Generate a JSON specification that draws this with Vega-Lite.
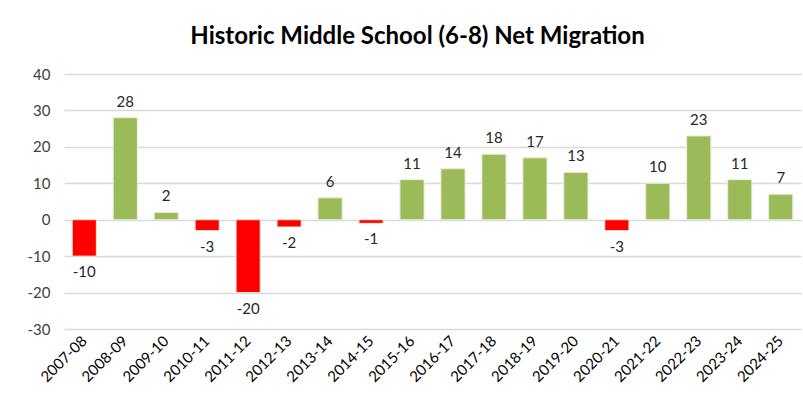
{
  "$schema": "https://vega.github.io/schema/vega-lite/v6.json",
  "width": 737,
  "height": 255,
  "autosize": {"type": "none"},
  "padding": {"left": 64, "top": 74, "right": 2, "bottom": 75},
  "background": "white",
  "title": {
    "text": "Historic Middle School (6-8) Net Migration",
    "font": "Lato",
    "fontSize": 24,
    "fontWeight": "bold",
    "color": "#000000",
    "anchor": "middle",
    "dx": -15,
    "offset": 18
  },
  "config": {
    "view": {"stroke": null},
    "font": "Lato"
  },
  "data": {
    "values": [
      {"year": "2007-08", "value": -10},
      {"year": "2008-09", "value": 28},
      {"year": "2009-10", "value": 2},
      {"year": "2010-11", "value": -3},
      {"year": "2011-12", "value": -20},
      {"year": "2012-13", "value": -2},
      {"year": "2013-14", "value": 6},
      {"year": "2014-15", "value": -1},
      {"year": "2015-16", "value": 11},
      {"year": "2016-17", "value": 14},
      {"year": "2017-18", "value": 18},
      {"year": "2018-19", "value": 17},
      {"year": "2019-20", "value": 13},
      {"year": "2020-21", "value": -3},
      {"year": "2021-22", "value": 10},
      {"year": "2022-23", "value": 23},
      {"year": "2023-24", "value": 11},
      {"year": "2024-25", "value": 7}
    ]
  },
  "encoding": {
    "x": {
      "field": "year",
      "type": "nominal",
      "sort": null,
      "scale": {"paddingInner": 0.41, "paddingOuter": 0.2},
      "axis": {
        "title": null,
        "labelAngle": -45,
        "labelAlign": "right",
        "labelBaseline": "middle",
        "labelFont": "Lato",
        "labelFontSize": 15,
        "labelColor": "#000000",
        "labelPadding": 9,
        "ticks": false,
        "domain": false,
        "grid": false
      }
    },
    "y": {
      "field": "value",
      "type": "quantitative",
      "scale": {"domain": [-30, 40], "nice": false, "zero": false},
      "axis": {
        "title": null,
        "values": [-30, -20, -10, 0, 10, 20, 30, 40],
        "labelExpr": "toString(datum.value)",
        "labelFont": "Lato",
        "labelFontSize": 15,
        "labelColor": "#404040",
        "labelPadding": 14,
        "ticks": false,
        "domain": false,
        "grid": true,
        "gridColor": "#D9D9D9",
        "gridWidth": 1.5
      }
    }
  },
  "layer": [
    {
      "mark": {"type": "bar", "stroke": "#E8EFD9", "strokeWidth": 1},
      "encoding": {
        "y": {"field": "value", "type": "quantitative"},
        "y2": {"datum": 0},
        "color": {
          "condition": {"test": "datum.value < 0", "value": "#FF0000"},
          "value": "#9BBB59"
        }
      }
    },
    {
      "transform": [{"filter": "datum.value >= 0"}],
      "mark": {"type": "text", "baseline": "bottom", "dy": -8, "font": "Lato", "fontSize": 15, "color": "#262626"},
      "encoding": {"text": {"field": "value", "type": "nominal"}}
    },
    {
      "transform": [{"filter": "datum.value < 0"}],
      "mark": {"type": "text", "baseline": "top", "dy": 9, "font": "Lato", "fontSize": 15, "color": "#262626"},
      "encoding": {"text": {"field": "value", "type": "nominal"}}
    }
  ]
}
